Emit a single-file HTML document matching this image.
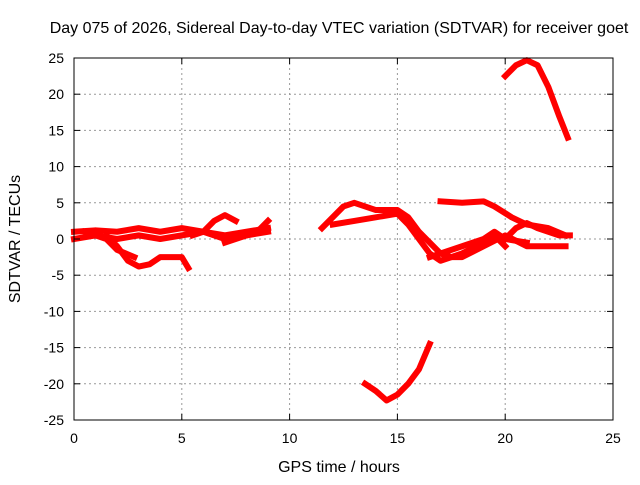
<!DOCTYPE html>
<html><head><meta charset="utf-8"><style>
body{margin:0;background:#fff}
svg text{font-family:"Liberation Sans",sans-serif;font-size:14px;fill:#000}
svg text.big{font-size:16px}
</style></head><body>
<svg id="chart" width="640" height="480">
<rect width="640" height="480" fill="#fff"/>
<text class="big" x="339" y="33" text-anchor="middle">Day 075 of 2026, Sidereal Day-to-day VTEC variation (SDTVAR) for receiver goet</text>
<text class="big" x="339" y="472" text-anchor="middle">GPS time / hours</text>
<text class="big" x="0" y="0" transform="translate(20,239) rotate(-90)" text-anchor="middle">SDTVAR / TECUs</text>
<g id="grid"></g><g id="series"></g><g id="ticks"></g>
<rect x="74" y="58" width="539" height="362" fill="none" stroke="#000" stroke-width="1"/>
</svg>
<script>
const xTicks=[0,5,10,15,20,25];
const yTicks=[25,20,15,10,5,0,-5,-10,-15,-20,-25];
const s1=[[0,1],[1,1.2],[2,1],[3,1.5],[4,1],[5,1.5],[6,1],[7,0.5],[8,1],[9,1.5]];
const s2=[[0,0],[1,0.5],[2,0],[3,0.5],[4,0],[5,0.5],[6,1],[7,0],[8,0.5],[9,1]];
const s3=[[1.5,0.5],[2,-1],[2.5,-3],[3,-3.8],[3.5,-3.5],[4,-2.5],[5,-2.5],[5.3,-4]];
const s4=[[0.5,1],[1.5,0],[2,-1.5],[2.8,-2.5]];
const s5=[[5.5,0.5],[6,1],[6.5,2.5],[7,3.3],[7.5,2.5]];
const s6=[[7,-0.5],[8,0.5],[8.5,1],[9,2.5]];
const s7=[[11.5,1.5],[12,3],[12.5,4.5],[13,5],[14,4],[15,4],[15.5,3],[16,1],[16.5,-0.5],[17,-2],[17.5,-2.5],[18,-2.5],[19,-1],[20,0.5],[21,-1],[22,-1],[22.8,-1]];
const s8=[[12,2],[13,2.5],[14,3],[15,3.5],[15.5,2],[16,0],[16.5,-2],[17,-3],[18,-2],[19,-0.5],[19.5,0.5],[20,-1]];
const s9=[[16.5,-2.5],[17,-2],[18,-1],[19,0],[19.5,1],[20,0],[21,-0.5]];
const s10=[[17,5.2],[18,5],[19,5.2],[19.5,4.5],[20.3,3],[21,2],[22,1.5],[22.8,0.5]];
const s11=[[20,0],[20.5,1.5],[21,2.2],[21.5,1.5],[22.5,0.5],[23,0.5]];
const s12=[[20,22.5],[20.5,24],[21,24.7],[21.5,24],[22,21],[22.5,17],[22.9,14]];
const s13=[[13.5,-20],[14,-21],[14.5,-22.3],[15,-21.5],[15.5,-20],[16,-18],[16.5,-14.5]];
const allSeries=[s1,s2,s3,s4,s5,s6,s7,s8,s9,s10,s11,s12,s13];
const X=v=>74+(v-0)/25*539;
const Y=v=>239-v/25*181;
const NS="http://www.w3.org/2000/svg";
const grid=document.getElementById('grid'),tk=document.getElementById('ticks'),sg=document.getElementById('series');
function mk(t,a,p){const e=document.createElementNS(NS,t);for(const k in a)e.setAttribute(k,a[k]);p.appendChild(e);return e;}
xTicks.forEach(v=>{
 if(v>0&&v<25){const g=mk('line',{x1:X(v),x2:X(v),y1:58,y2:420,stroke:'#999','stroke-dasharray':'2,3'},grid);
 
 }
 const t=mk('text',{x:X(v),y:443,'text-anchor':'middle'},tk);t.textContent=v;
 
 
 mk('line',{x1:X(v),x2:X(v),y1:420,y2:414,stroke:'#000'},tk);
 mk('line',{x1:X(v),x2:X(v),y1:58,y2:64,stroke:'#000'},tk);
});
yTicks.forEach(v=>{
 if(v>-25&&v<25){const g=mk('line',{x1:74,x2:613,y1:Y(v),y2:Y(v),stroke:'#999','stroke-dasharray':'2,3'},grid);
 
 }
 const t=mk('text',{x:64,y:Y(v)+5,'text-anchor':'end'},tk);t.textContent=v;
 
 
 mk('line',{x1:74,x2:80,y1:Y(v),y2:Y(v),stroke:'#000'},tk);
 mk('line',{x1:613,x2:607,y1:Y(v),y2:Y(v),stroke:'#000'},tk);
});
allSeries.forEach((s,i)=>{
 const p=mk('polyline',{points:s.map(d=>X(d[0])+','+Y(d[1])).join(' '),fill:'none',stroke:'#f00','stroke-width':6,'stroke-linejoin':'round','stroke-linecap':'square'},sg);
 
 
});
</script>
</body></html>
